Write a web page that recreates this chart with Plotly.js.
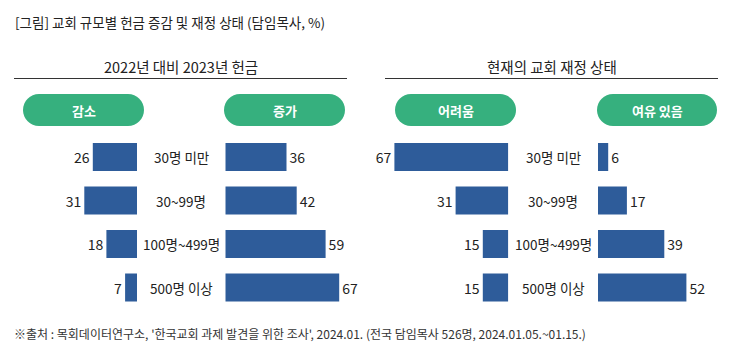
<!DOCTYPE html>
<html>
<head>
<meta charset="utf-8">
<script src="https://cdn.plot.ly/plotly-3.0.1.min.js"></script>
<style>html,body{margin:0;padding:0;background:#fff;}#chart{width:732px;height:354px;}</style>
</head>
<body>
<div id="chart"></div>
<script>
// ---- data ----
const categories = ['30명 미만', '30~99명', '100명~499명', '500명 이상'];
const decrease = [26, 31, 18, 7];      // 감소
const increase = [36, 42, 59, 67];     // 증가
const difficult = [67, 31, 15, 15];    // 어려움
const surplus = [6, 17, 39, 52];       // 여유 있음
const pillLabels = ['감소', '증가', '어려움', '여유 있음'];
const panelTitles = ['2022년 대비 2023년 헌금', '현재의 교회 재정 상태'];
const chartTitle = '[그림] 교회 규모별 헌금 증감 및 재정 상태 (담임목사, %)';
const sourceNote = "※출처 : 목회데이터연구소, '한국교회 과제 발견을 위한 조사', 2024.01. (전국 담임목사 526명, 2024.01.05.~01.15.)";

// ---- layout helpers ----
const W = 732, H = 354;
const px = x => x / W;
const py = y => 1 - y / H;
const FONT = '"Noto Sans CJK KR", "Noto Sans", sans-serif';
const BAR = '#2E5C9A';
const GREEN = '#36B07E';
const TXT = '#222222';

function barTrace(vals, xa) {
  return {
    type: 'bar', orientation: 'h', x: vals, y: categories,
    xaxis: xa, yaxis: 'y',
    marker: {color: BAR, line: {width: 0}},
    text: vals.map(String), textposition: 'outside', cliponaxis: false,
    textfont: {family: FONT, size: 14, color: TXT},
    hoverinfo: 'skip'
  };
}

const traces = [
  barTrace(decrease, 'x'),
  barTrace(increase, 'x2'),
  barTrace(difficult, 'x3'),
  barTrace(surplus, 'x4')
];

function xax(d0, d1, range) {
  return {domain: [px(d0), px(d1)], range: range, visible: false, fixedrange: true, anchor: 'y'};
}

function pillPath(x0, x1, y0, y1) {
  const r = (y1 - y0) / 2, k = 0.5523 * r, cy = (y0 + y1) / 2;
  const P = (x, y) => px(x).toFixed(5) + ',' + py(y).toFixed(5);
  return 'M' + P(x0 + r, y0) + ' L' + P(x1 - r, y0) +
    ' C' + P(x1 - r + k, y0) + ' ' + P(x1, cy - k) + ' ' + P(x1, cy) +
    ' C' + P(x1, cy + k) + ' ' + P(x1 - r + k, y1) + ' ' + P(x1 - r, y1) +
    ' L' + P(x0 + r, y1) +
    ' C' + P(x0 + r - k, y1) + ' ' + P(x0, cy + k) + ' ' + P(x0, cy) +
    ' C' + P(x0, cy - k) + ' ' + P(x0 + r - k, y0) + ' ' + P(x0 + r, y0) + ' Z';
}

const pills = [[23, 144], [224, 345], [395, 516], [597, 717]];
const pillY = [94, 126];

const shapes = pills.map(p => ({
  type: 'path', xref: 'paper', yref: 'paper', path: pillPath(p[0], p[1], pillY[0], pillY[1]),
  fillcolor: GREEN, line: {width: 0}
}));
shapes.push({type: 'line', xref: 'paper', yref: 'paper', x0: px(14), x1: px(347), y0: py(78.5), y1: py(78.5), line: {color: '#333', width: 1}});
shapes.push({type: 'line', xref: 'paper', yref: 'paper', x0: px(385), x1: px(718), y0: py(78.5), y1: py(78.5), line: {color: '#333', width: 1}});

const annotations = [];
annotations.push({xref: 'paper', yref: 'paper', x: px(13), y: py(22), xanchor: 'left', yanchor: 'middle', text: chartTitle, showarrow: false, font: {family: FONT, size: 13.5, color: TXT}});
annotations.push({xref: 'paper', yref: 'paper', x: px(181), y: py(67), xanchor: 'center', yanchor: 'middle', text: panelTitles[0], showarrow: false, font: {family: FONT, size: 14.5, color: TXT}});
annotations.push({xref: 'paper', yref: 'paper', x: px(552), y: py(67), xanchor: 'center', yanchor: 'middle', text: panelTitles[1], showarrow: false, font: {family: FONT, size: 14.5, color: TXT}});
pills.forEach((p, i) => annotations.push({xref: 'paper', yref: 'paper', x: px((p[0] + p[1]) / 2), y: py(110), xanchor: 'center', yanchor: 'middle', text: '<b>' + pillLabels[i] + '</b>', showarrow: false, font: {family: FONT, size: 13, color: '#ffffff'}}));
[181, 553].forEach(cx => categories.forEach(c => annotations.push({xref: 'paper', yref: 'y', x: px(cx), y: c, xanchor: 'center', yanchor: 'middle', text: c, showarrow: false, font: {family: FONT, size: 13.5, color: TXT}})));
annotations.push({xref: 'paper', yref: 'paper', x: px(12), y: py(333), xanchor: 'left', yanchor: 'middle', text: sourceNote, showarrow: false, font: {family: FONT, size: 12, color: '#333'}});

const layout = {
  width: W, height: H,
  margin: {l: 0, r: 0, t: 0, b: 0},
  paper_bgcolor: '#fff', plot_bgcolor: '#fff',
  showlegend: false,
  bargap: 0.356,
  xaxis: xax(1, 137, [80, 0]),
  xaxis2: xax(225.3, 361.3, [0, 80]),
  xaxis3: xax(372.3, 508.3, [80, 0]),
  xaxis4: xax(598, 717, [0, 70]),
  yaxis: {domain: [py(309.25), py(135.25)], type: 'category', autorange: 'reversed', visible: false, fixedrange: true},
  shapes: shapes,
  annotations: annotations,
  font: {family: FONT}
};

Plotly.newPlot('chart', traces, layout, {displayModeBar: false, staticPlot: true});
</script>
</body>
</html>
